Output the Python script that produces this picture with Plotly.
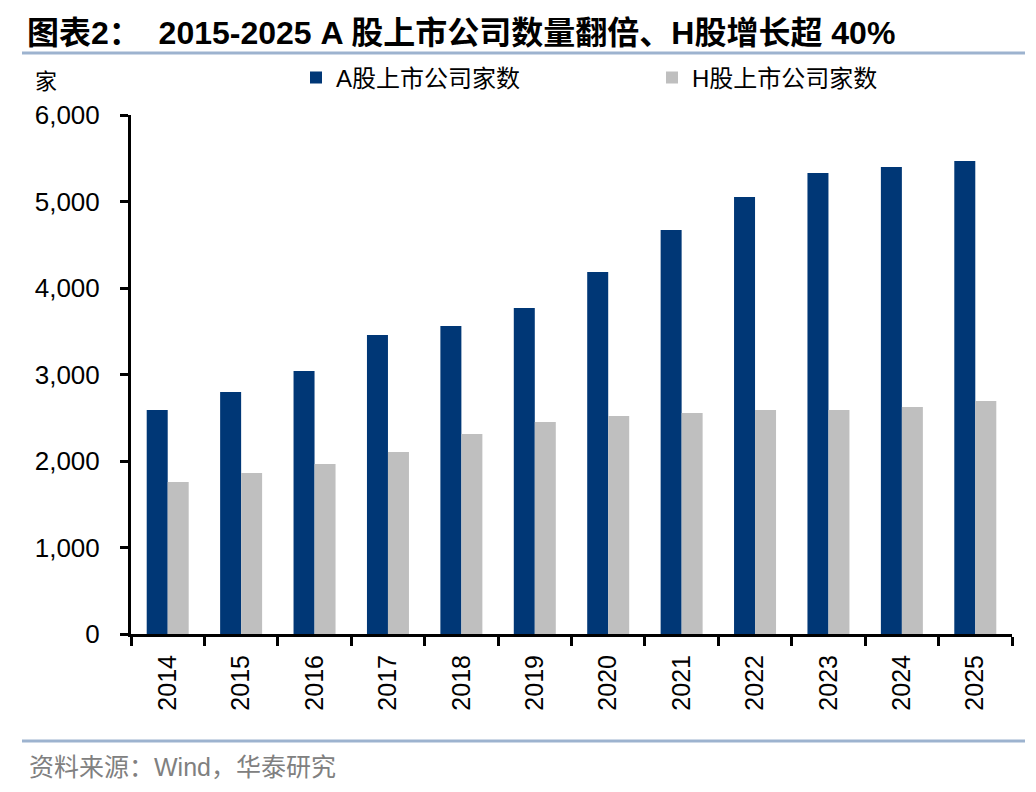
import plotly.graph_objects as go

years = ["2014", "2015", "2016", "2017", "2018", "2019", "2020", "2021", "2022", "2023", "2024", "2025"]
a_counts = [2590, 2798, 3040, 3457, 3561, 3769, 4185, 4671, 5052, 5329, 5399, 5468]
h_counts = [1757, 1861, 1965, 2104, 2312, 2451, 2520, 2555, 2590, 2590, 2624, 2694]
a_name = "A股上市公司家数"
h_name = "H股上市公司家数"
title_text = "<b>图表2：  2015-2025 A 股上市公司数量翻倍、H股增长超 40%</b>"
unit_text = "家"
source_text = "资料来源：Wind，华泰研究"

FONT = "Liberation Sans, Arial, Noto Sans CJK SC, sans-serif"
W, H = 1036, 792
L, R, T, B = 131, 24, 114.5, 158
pw, ph = W - L - R, H - T - B

def px_x(p):
    return (p - L) / pw

def px_y(p):
    return (H - B - p) / ph

fig = go.Figure()
fig.add_trace(go.Bar(x=years, y=a_counts, name=a_name, marker_color="#003776",
                     marker_line_width=0, legend="legend"))
fig.add_trace(go.Bar(x=years, y=h_counts, name=h_name, marker_color="#BFBFBF",
                     marker_line_width=0, legend="legend2"))

legend_common = dict(orientation="h", xref="container", yref="container",
                     yanchor="middle", xanchor="left", bgcolor="rgba(0,0,0,0)",
                     font=dict(family=FONT, size=24, color="#000000"),
                     itemwidth=30, borderwidth=0)

fig.update_layout(
    width=W, height=H,
    margin=dict(l=L, r=R, t=T, b=B, pad=0, autoexpand=False),
    paper_bgcolor="white", plot_bgcolor="white",
    barmode="group", bargap=0.428, bargroupgap=0,
    font=dict(family=FONT, size=24, color="#000000"),
    showlegend=True,
    legend=dict(x=296 / W, y=1 - 78 / H, **legend_common),
    legend2=dict(x=652 / W, y=1 - 78 / H, **legend_common),
    title=dict(text=title_text, xref="container", yref="container",
               x=27 / W, xanchor="left", y=1 - 33 / H, yanchor="middle",
               font=dict(family=FONT, size=32, color="#000000")),
    xaxis=dict(type="category", showline=True, linecolor="#000000", linewidth=3,
               ticks="outside", ticklen=9, tickwidth=2.5, tickcolor="#000000",
               tickson="boundaries", tickangle=-90, showgrid=False, zeroline=False,
               tickfont=dict(family=FONT, size=25, color="#000000"),
               ticklabelstandoff=8),
    yaxis=dict(range=[0, 6000], showline=True, linecolor="#000000", linewidth=3,
               ticks="outside", ticklen=8, tickwidth=2.5, tickcolor="#000000",
               dtick=1000, tickformat=",d", showgrid=False, zeroline=False,
               tickfont=dict(family=FONT, size=26, color="#000000"),
               ticklabelstandoff=15),
    shapes=[
        dict(type="line", xref="paper", yref="paper", x0=px_x(22), x1=px_x(1025),
             y0=px_y(52.5), y1=px_y(52.5), line=dict(color="#9DB3CF", width=3)),
        dict(type="line", xref="paper", yref="paper", x0=px_x(22), x1=px_x(1025),
             y0=px_y(741), y1=px_y(741), line=dict(color="#9DB3CF", width=3)),
    ],
    annotations=[
        dict(text=unit_text, xref="paper", yref="paper", x=px_x(46), y=px_y(81),
             xanchor="center", yanchor="middle", showarrow=False,
             font=dict(family=FONT, size=22, color="#000000")),
        dict(text=source_text, xref="paper", yref="paper", x=px_x(27), y=px_y(767),
             xanchor="left", yanchor="middle", showarrow=False,
             font=dict(family=FONT, size=25, color="#808080")),
    ],
)

fig.write_html("out.html", config={"displayModeBar": False},
               post_script="document.body.style.margin='0';")
